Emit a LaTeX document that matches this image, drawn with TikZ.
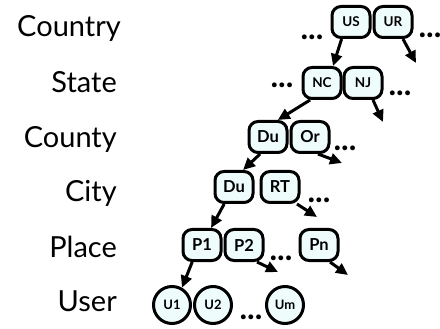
\documentclass[tikz,border=0pt]{standalone}
\usepackage{fontspec}
\setmainfont{Lato}
\usetikzlibrary{arrows.meta}
\definecolor{boxfill}{HTML}{EEFCFC}
\begin{document}
\begin{tikzpicture}[x=1pt,y=-1pt,
  lvl/.style={anchor=base east, inner sep=0pt, font=\fontsize{29}{29}\selectfont},
  box/.style={draw, line width=3pt, rounded corners=9pt, fill=boxfill, minimum width=38pt, minimum height=31pt, inner sep=0pt, font=\bfseries\fontsize{13.5}{13.5}\selectfont},
  big/.style={font=\bfseries\fontsize{16.5}{16.5}\selectfont},
  usr/.style={draw, circle, line width=3pt, fill=boxfill, minimum size=37pt, inner sep=0pt, font=\bfseries\fontsize{13}{13}\selectfont},
  dots/.style={anchor=base, inner sep=0pt, font=\bfseries\fontsize{32}{32}\selectfont},
  arr/.style={line width=3pt, -{Triangle[length=12pt,width=11pt]}}]
\useasboundingbox (0,0) rectangle (440,329);
% level labels
\node[lvl] (lCountry) at (121,37) {Country};
\node[lvl] (lState) at (117,93) {State};
\node[lvl] (lCounty) at (117,148) {County};
\node[lvl] (lCity) at (117,202) {City};
\node[lvl] (lPlace) at (117,258) {Place};
\node[lvl] (lUser) at (117,312) {User};
% nodes
\node[box] (US) at (351,22) {US};
\node[box] (UR) at (393,22) {UR};
\node[box] (NC) at (322,83) {NC};
\node[box] (NJ) at (363,83) {NJ};
\node[box,big] (Du1) at (268,137) {Du};
\node[box,big] (Or) at (310,137) {Or};
\node[box,big] (Du2) at (234,187) {Du};
\node[box,big] (RT) at (280,187) {RT};
\node[box,big] (P1) at (202,245) {P1};
\node[box,big] (P2) at (244,245) {P2};
\node[box,big] (Pn) at (319,245) {Pn};
\node[usr] (U1) at (172,305) {U1};
\node[usr] (U2) at (213,305) {U2};
\node[usr] (Um) at (285,305) {Um};
% dots
\node[dots] (d1) at (312,40) {...};
\node[dots] (d2) at (430,38) {...};
\node[dots] (d3) at (282,88) {...};
\node[dots] (d4) at (400,96) {...};
\node[dots] (d5) at (345,150) {...};
\node[dots] (d6) at (319,203) {...};
\node[dots] (d7) at (281,260) {...};
\node[dots] (d8) at (251,319) {...};
% free ends
\coordinate (fUR) at (416,63);
\coordinate (fNJ) at (383,122);
\coordinate (fOr) at (342,163);
\coordinate (fRT) at (317,217);
\coordinate (fP2) at (278,272);
\coordinate (fPn) at (348,275);
% arrows
\draw[arr] (US.241) -- (NC.57);
\draw[arr] (UR.south) ++(10,0) -- (fUR);
\draw[arr] (NC.235) -- (Du1.60);
\draw[arr] (NJ.south) ++(10,0) -- (fNJ);
\draw[arr] (Du1.245) -- (Du2.62);
\draw[arr] (Or.south) ++(8,0) -- (fOr);
\draw[arr] (Du2.240) -- (P1.62);
\draw[arr] (RT.south) ++(17,0) -- (fRT);
\draw[arr] (P1.240) -- (U1.60);
\draw[arr] (P2.south) ++(13,0) -- (fP2);
\draw[arr] (Pn.south) ++(11,0) -- (fPn);
\end{tikzpicture}
\end{document}
